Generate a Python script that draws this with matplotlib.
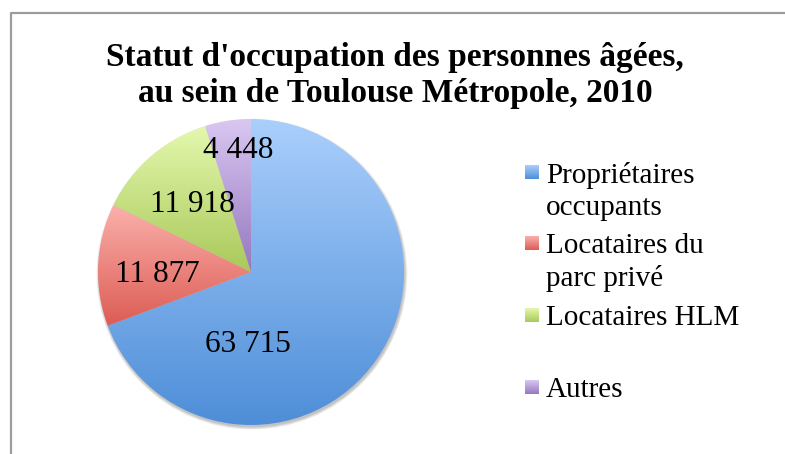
import numpy as np
import matplotlib.pyplot as plt
from matplotlib.colors import LinearSegmentedColormap
from matplotlib.patches import Circle

# Données
categories = ['Propriétaires\noccupants', 'Locataires du\nparc privé', 'Locataires HLM', 'Autres']
values = [63715, 11877, 11918, 4448]
value_labels = ['63 715', '11 877', '11 918', '4 448']
top_colors = ['#aacffc', '#fbb0ab', '#e4f8ae', '#dac8f1']
bottom_colors = ['#4e8ed8', '#dc5c54', '#a9c95a', '#9577c0']

W, H = 785, 454
serif = ['Liberation Serif', 'DejaVu Serif']

fig = plt.figure(figsize=(W / 100, H / 100), dpi=100)

# fond en coordonnées pixel : cadre, titre, légende
bg = fig.add_axes([0, 0, 1, 1])
bg.set_xlim(0, W)
bg.set_ylim(H, 0)
bg.axis('off')
bg.plot([10.5, 10.5, W], [H, 13, 13], color='#9c9c9c', lw=1.6, solid_capstyle='butt')

bg.text(395, 66, "Statut d'occupation des personnes âgées,", ha='center', va='baseline',
        fontsize=24, fontweight='bold', family=serif)
bg.text(395, 102, 'au sein de Toulouse Métropole, 2010', ha='center', va='baseline',
        fontsize=24, fontweight='bold', family=serif)

# camembert
cx, cy, r, pad = 251, 272, 153, 14
ax = fig.add_axes([(cx - r - pad) / W, (H - cy - r - pad) / H, 2 * (r + pad) / W, 2 * (r + pad) / H])
wedges, _ = ax.pie(values, startangle=90, counterclock=False, radius=1,
                   wedgeprops=dict(linewidth=0))

# ombre portée
for i in range(5):
    ax.add_patch(Circle((0.006, -0.014), 1.0 + 0.004 * i, color='k', alpha=0.05, lw=0, zorder=0))

grad = np.linspace(0, 1, 256).reshape(-1, 1)
for w, c0, c1 in zip(wedges, top_colors, bottom_colors):
    ext = w.get_path().get_extents()
    cmap = LinearSegmentedColormap.from_list('g', [c1, c0])
    im = ax.imshow(grad, cmap=cmap, origin='lower', aspect='auto', zorder=2,
                   extent=[ext.x0, ext.x1, ext.y0, ext.y1], interpolation='bilinear')
    im.set_clip_path(w)
    w.set_facecolor('none')

# étiquettes de valeurs (position "meilleur ajustement")
label_pos = [(-0.02, -0.477), (-0.61, -0.016), (-0.38, 0.444), (-0.085, 0.794)]
for (x, y), txt in zip(label_pos, value_labels):
    ax.text(x, y, txt, ha='center', va='center', fontsize=22.5, family=serif, zorder=5)

lim = (r + pad) / r
ax.set_xlim(-lim, lim)
ax.set_ylim(-lim, lim)
ax.axis('off')

# légende
leg_y = [172, 243, 315, 387]
for y, lab, c0, c1 in zip(leg_y, categories, top_colors, bottom_colors):
    cmap = LinearSegmentedColormap.from_list('g', [c0, c1])
    bg.imshow(grad, cmap=cmap, extent=[525, 539, y + 7, y - 7], aspect='auto', zorder=3)
    bg.text(546, y - 10, lab, ha='left', va='top', fontsize=21, family=serif, linespacing=1.3)
bg.set_xlim(0, W)
bg.set_ylim(H, 0)

fig.savefig('out.png', dpi=100)
